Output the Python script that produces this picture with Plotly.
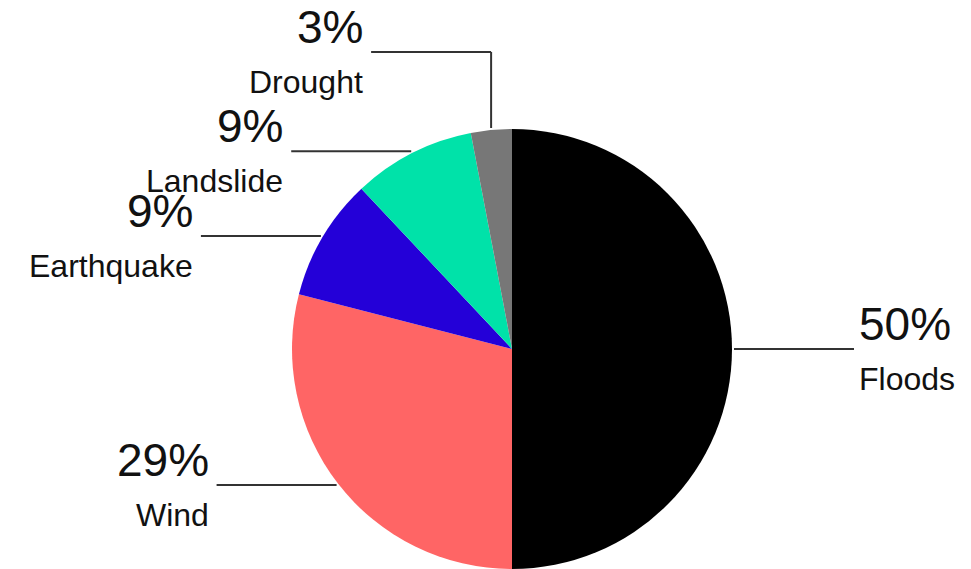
import math
import plotly.graph_objects as go

categories = ["Floods", "Wind", "Earthquake", "Landslide", "Drought"]
values = [50, 29, 9, 9, 3]
percent_labels = ["50%", "29%", "9%", "9%", "3%"]
colors = ["#000000", "#FF6565", "#2400D8", "#00E2A9", "#777777"]
leader_style = ["straight", "straight", "straight", "straight", "elbow"]

W, H = 971, 569
CX, CY, R = 512, 349, 220  # pie centre / radius in pixels
LINE_LEN = 120
ELBOW_Y = 52
FONT = "Liberation Sans, Arial, sans-serif"


def px(x):
    return x / W


def py(y):
    return 1 - y / H


fig = go.Figure(
    go.Pie(
        labels=categories,
        values=values,
        sort=False,
        direction="clockwise",
        rotation=0,
        marker=dict(colors=colors, line=dict(width=0)),
        textinfo="none",
        hoverinfo="label+percent",
        showlegend=False,
        domain=dict(x=[px(CX - R), px(CX + R)], y=[py(CY + R), py(CY - R)]),
    )
)

shapes = []
annotations = []
total = sum(values)
cum = 0
for cat, v, pl, style in zip(categories, values, percent_labels, leader_style):
    mid = (cum + v / 2) / total * 2 * math.pi
    cum += v
    sx = CX + (R + 2) * math.sin(mid)
    sy = CY - (R + 2) * math.cos(mid)
    right = math.sin(mid) > 0
    if style == "elbow":
        shapes.append(dict(type="line", xref="paper", yref="paper",
                           x0=px(sx), y0=py(sy), x1=px(sx), y1=py(ELBOW_Y),
                           line=dict(color="#333333", width=2)))
        ly = ELBOW_Y
    else:
        ly = sy
    x_start = sx
    x_end = x_start + LINE_LEN if right else x_start - LINE_LEN
    shapes.append(dict(type="line", xref="paper", yref="paper",
                       x0=px(x_start), y0=py(ly), x1=px(x_end), y1=py(ly),
                       line=dict(color="#333333", width=2)))
    tx = x_end + 3 if right else x_end - 6
    anchor = "left" if right else "right"
    annotations.append(dict(x=px(tx), y=py(ly - 25), xref="paper", yref="paper",
                            text=pl, showarrow=False, xanchor=anchor, yanchor="middle",
                            font=dict(family=FONT, size=46, color="#111111")))
    annotations.append(dict(x=px(tx), y=py(ly + 30), xref="paper", yref="paper",
                            text=cat, showarrow=False, xanchor=anchor, yanchor="middle",
                            font=dict(family=FONT, size=32, color="#111111")))

fig.update_layout(
    width=W, height=H,
    margin=dict(l=0, r=0, t=0, b=0),
    paper_bgcolor="white",
    plot_bgcolor="white",
    shapes=shapes,
    annotations=annotations,
)

fig.write_html("out.html")
